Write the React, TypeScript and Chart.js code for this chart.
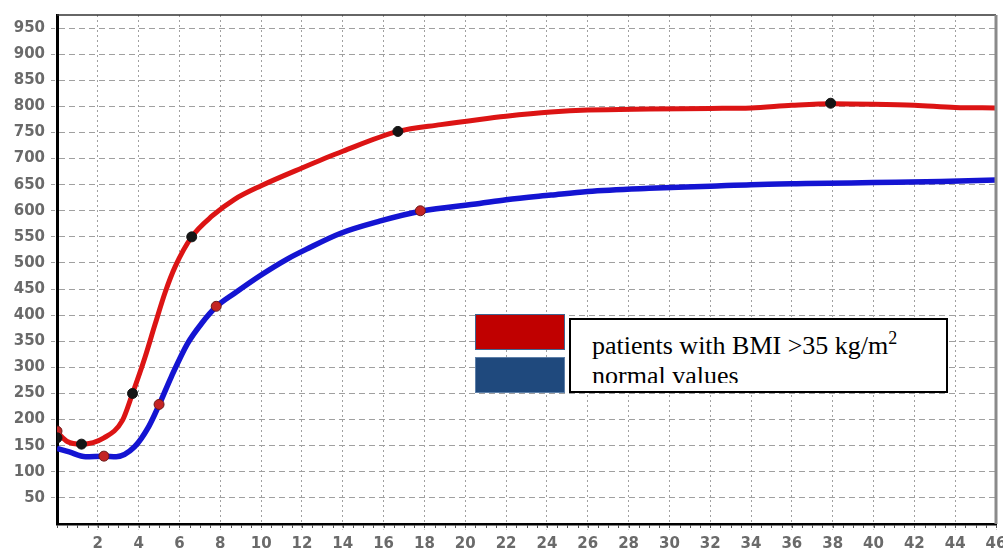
import React, { useEffect, useRef } from 'react';
import { Chart, registerables } from 'chart.js';

Chart.register(...registerables);

// ---- data ----
const redX = [0, 0.5, 1.2, 2.3, 3.2, 3.7, 4.3, 4.8, 5.3, 5.8, 6.6, 7.6, 8.7, 10, 12, 14, 16.7, 18.8, 20.7, 22, 24.2, 26, 29, 32, 34, 36, 38, 40, 42, 44, 46];
const redY = [176, 158, 153, 165, 198, 250, 318, 382, 444, 494, 550, 590, 622, 648, 682, 714, 752, 765, 775, 781, 789, 793, 795, 796, 797, 802, 805, 804, 802, 798, 797];

const blueX = [0, 0.6, 1.4, 2.3, 2.9, 3.8, 4.5, 5.0, 5.6, 6.4, 7.1, 7.8, 8.7, 10, 11.3, 12.2, 13.9, 15.8, 17.8, 20.7, 22, 24.2, 26, 29, 32, 34, 36.7, 40, 43.3, 46];
const blueY = [145, 138, 129, 130, 129, 148, 187, 228, 282, 346, 385, 416, 442, 477, 508, 526, 557, 580, 599, 614, 621, 630, 637, 643, 647, 650, 652, 654, 656, 659];

const blackMarkX = [0, 1.2, 3.7, 6.6, 16.7, 37.9];
const blackMarkY = [165, 153, 250, 550, 752, 806];

const redMarkX = [0, 2.3, 5.0, 7.8, 17.8];
const redMarkY = [178, 130, 229, 417, 600];

const xTicks = [2, 4, 6, 8, 10, 12, 14, 16, 18, 20, 22, 24, 26, 28, 30, 32, 34, 36, 38, 40, 42, 44, 46];
const yTicks = [50, 100, 150, 200, 250, 300, 350, 400, 450, 500, 550, 600, 650, 700, 750, 800, 850, 900, 950];
const minorStep = 0.5;

const legendTexts = ['patients with BMI >35 kg/m', 'normal values'];
const legendSup = '2';

const toPoints = (xs: number[], ys: number[]) => xs.map((x, i) => ({ x, y: ys[i] }));

const framePlugin = {
  id: 'frame',
  afterDraw(chart: any) {
    const { ctx, chartArea } = chart;
    const xs = chart.scales.x;
    ctx.save();
    // top border
    ctx.strokeStyle = '#333';
    ctx.lineWidth = 1.5;
    ctx.beginPath();
    ctx.moveTo(chartArea.left, chartArea.top);
    ctx.lineTo(chartArea.right, chartArea.top);
    ctx.stroke();
    // right border
    ctx.strokeStyle = '#8a8a8a';
    ctx.lineWidth = 3;
    ctx.beginPath();
    ctx.moveTo(chartArea.right, chartArea.top);
    ctx.lineTo(chartArea.right, chartArea.bottom);
    ctx.stroke();
    // minor ticks under x axis
    ctx.strokeStyle = '#555';
    ctx.lineWidth = 1;
    for (let v = xs.min; v <= xs.max + 1e-9; v += minorStep) {
      const px = Math.round(xs.getPixelForValue(v)) + 0.5;
      ctx.beginPath();
      ctx.moveTo(px, chartArea.bottom + 1);
      ctx.lineTo(px, chartArea.bottom + 4);
      ctx.stroke();
    }
    ctx.restore();
  },
};

export default function App() {
  const ref = useRef<HTMLCanvasElement | null>(null);

  useEffect(() => {
    if (!ref.current) return;
    const tickFont = { family: 'DejaVu Sans', size: 15, weight: 'bold' as const };
    const chart = new Chart(ref.current, {
      type: 'line',
      data: {
        datasets: [
          {
            label: 'black markers',
            data: toPoints(blackMarkX, blackMarkY),
            showLine: false,
            pointRadius: 5,
            pointBackgroundColor: '#151515',
            pointBorderColor: '#151515',
            order: 0,
          },
          {
            label: 'red markers',
            data: toPoints(redMarkX, redMarkY),
            showLine: false,
            pointRadius: 5,
            pointBackgroundColor: '#c42424',
            pointBorderColor: '#6a1a1a',
            pointBorderWidth: 1,
            order: 0,
          },
          {
            label: legendTexts[0],
            data: toPoints(redX, redY),
            borderColor: '#dc1414',
            borderWidth: 5,
            pointRadius: 0,
            cubicInterpolationMode: 'monotone',
            fill: false,
            order: 1,
          },
          {
            label: legendTexts[1],
            data: toPoints(blueX, blueY),
            borderColor: '#1414d2',
            borderWidth: 5.5,
            pointRadius: 0,
            cubicInterpolationMode: 'monotone',
            fill: false,
            order: 2,
          },
        ],
      },
      options: {
        responsive: false,
        animation: false,
        devicePixelRatio: 1,
        layout: { padding: { left: 0, top: 15, right: 7, bottom: 0 } },
        plugins: {
          legend: { display: false },
          tooltip: { enabled: false },
          title: { display: false },
        },
        scales: {
          x: {
            type: 'linear',
            min: 0,
            max: 46,
            afterBuildTicks: (scale: any) => {
              scale.ticks = xTicks.map((v) => ({ value: v }));
            },
            afterFit: (scale: any) => {
              scale.height = 26;
              scale.paddingLeft = 0;
              scale.paddingRight = 0;
            },
            ticks: {
              font: tickFont,
              color: '#6a6a6a',
              padding: 5,
              maxRotation: 0,
              autoSkip: false,
            },
            grid: {
              color: '#a0a0a0',
              lineWidth: 1,
              tickLength: 6,
              tickColor: '#a0a0a0',
              tickBorderDash: [2, 2],
            },
            border: { color: '#000', width: 2.5, dash: [2, 3] },
          },
          y: {
            type: 'linear',
            min: 0,
            max: 975,
            afterBuildTicks: (scale: any) => {
              scale.ticks = yTicks.map((v) => ({ value: v }));
            },
            afterFit: (scale: any) => {
              scale.width = 57;
              scale.paddingTop = 0;
              scale.paddingBottom = 0;
            },
            ticks: {
              font: tickFont,
              color: '#6a6a6a',
              padding: 6,
              autoSkip: false,
            },
            grid: {
              color: '#a0a0a0',
              lineWidth: 1,
              tickLength: 6,
              tickColor: '#a0a0a0',
              tickBorderDash: [4, 2],
            },
            border: { color: '#000', width: 3, dash: [6, 4] },
          },
        },
      },
      plugins: [framePlugin],
    } as any);
    return () => chart.destroy();
  }, []);

  return (
    <div style={{ position: 'absolute', left: 0, top: 0, width: 1003, height: 550, background: '#fff', overflow: 'hidden' }}>
      <canvas ref={ref} width={1003} height={550} style={{ display: 'block', width: 1003, height: 550 }} />
      {/* legend swatches */}
      <div style={{ position: 'absolute', left: 475, top: 314, width: 90, height: 36, boxSizing: 'border-box', background: '#c00000', border: '1.5px solid #3f6591' }} />
      <div style={{ position: 'absolute', left: 475, top: 357, width: 90, height: 36, boxSizing: 'border-box', background: '#1f497d', border: '1.5px solid #5d7fa8' }} />
      {/* legend text box */}
      <div style={{ position: 'absolute', left: 569, top: 318, width: 379, height: 75, boxSizing: 'border-box', border: '2px solid #000', background: '#fff' }}>
        <div style={{ position: 'absolute', left: 0, top: 0, right: 0, height: 63, overflow: 'hidden' }}>
          <div style={{ paddingLeft: 21, paddingTop: 11, fontFamily: '"Liberation Serif", "Times New Roman", serif', fontSize: 26, lineHeight: '30px', color: '#000', whiteSpace: 'nowrap' }}>
            <div>
              {legendTexts[0]}
              <span style={{ fontSize: 18, verticalAlign: '10px', lineHeight: 0 }}>{legendSup}</span>
            </div>
            <div>{legendTexts[1]}</div>
          </div>
        </div>
      </div>
    </div>
  );
}
